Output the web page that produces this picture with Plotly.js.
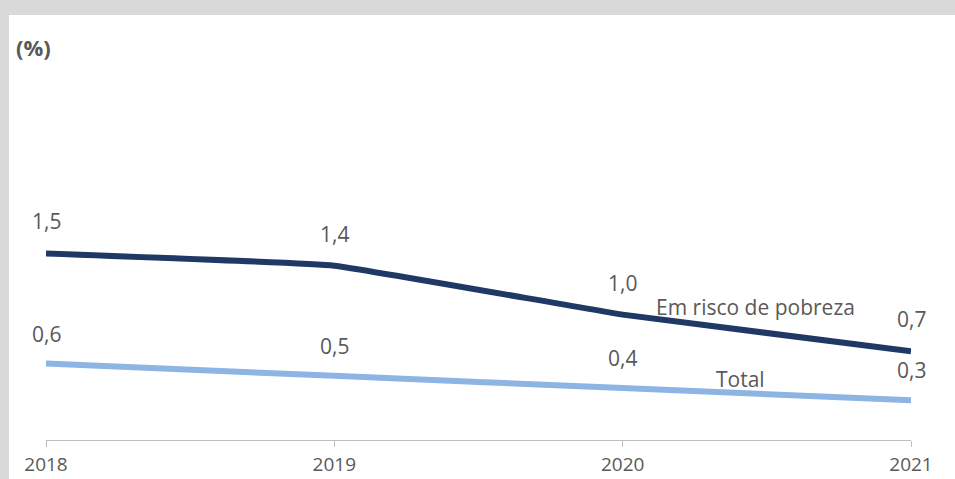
<!DOCTYPE html>
<html><head><meta charset="utf-8">
<script src="https://cdn.plot.ly/plotly-3.0.1.min.js"></script>
<style>
html,body{margin:0;padding:0;background:#d9d9d9;width:955px;height:479px;overflow:hidden}
#chart{position:absolute;left:9px;top:15px;width:946px;height:464px;background:#fff}
</style></head><body>
<div id="chart"></div>
<script>
const years = [2018, 2019, 2020, 2021];
const riscoPobreza = [1.5, 1.4, 1.0, 0.7];
const total = [0.6, 0.5, 0.4, 0.3];
const riscoLabels = ['1,5', '1,4', '1,0', '0,7'];
const totalLabels = ['0,6', '0,5', '0,4', '0,3'];
const seriesNames = ['Em risco de pobreza', 'Total'];

const fam = '"Open Sans", "Noto Sans", sans-serif';
const labelFont = {family: fam, size: 21, color: '#595959'};
const nameFont = {family: fam, size: 21, color: '#595959'};

const traces = [
  {x: years, y: riscoPobreza, mode: 'lines', name: seriesNames[0],
   line: {color: '#1f3864', width: 6, shape: 'spline', smoothing: 0.25}, hoverinfo: 'skip'},
  {x: years, y: total, mode: 'lines', name: seriesNames[1],
   line: {color: '#8db4e2', width: 6, shape: 'spline', smoothing: 0.25}, hoverinfo: 'skip'}
];

const annotations = [];
years.forEach((yr, i) => {
  annotations.push({x: yr, y: riscoPobreza[i], text: riscoLabels[i], showarrow: false,
    yshift: 32, font: labelFont});
  annotations.push({x: yr, y: total[i], text: totalLabels[i], showarrow: false,
    yshift: 30, font: labelFont});
});
annotations.push({xref: 'paper', yref: 'paper', x: 0.8197, y: 0.359, text: seriesNames[0],
  showarrow: false, font: nameFont, xanchor: 'center', yanchor: 'middle'});
annotations.push({xref: 'paper', yref: 'paper', x: 0.803, y: 0.165, text: seriesNames[1],
  showarrow: false, font: nameFont, xanchor: 'center', yanchor: 'middle'});
annotations.push({xref: 'paper', yref: 'paper', x: -0.014, y: 1.0, text: '<b>(%)</b>',
  showarrow: false, xanchor: 'center', yanchor: 'middle', yshift: 23,
  font: {family: fam, size: 22, color: '#595959'}});

const layout = {
  width: 946, height: 464,
  margin: {l: 37, r: 44, t: 55, b: 39},
  paper_bgcolor: '#ffffff', plot_bgcolor: '#ffffff',
  showlegend: false,
  xaxis: {range: [2018, 2021], tickvals: years, ticktext: years.map(String),
    showgrid: false, zeroline: false, showline: true, linecolor: '#bfbfbf', linewidth: 1,
    ticks: 'outside', ticklen: 6, tickcolor: '#bfbfbf', ticklabelstandoff: 1,
    tickfont: {family: fam, size: 19, color: '#595959'}},
  yaxis: {range: [-0.025, 3.0], visible: false, showgrid: false, zeroline: false},
  annotations: annotations
};
Plotly.newPlot('chart', traces, layout, {staticPlot: true, displayModeBar: false});
</script>
</body></html>
